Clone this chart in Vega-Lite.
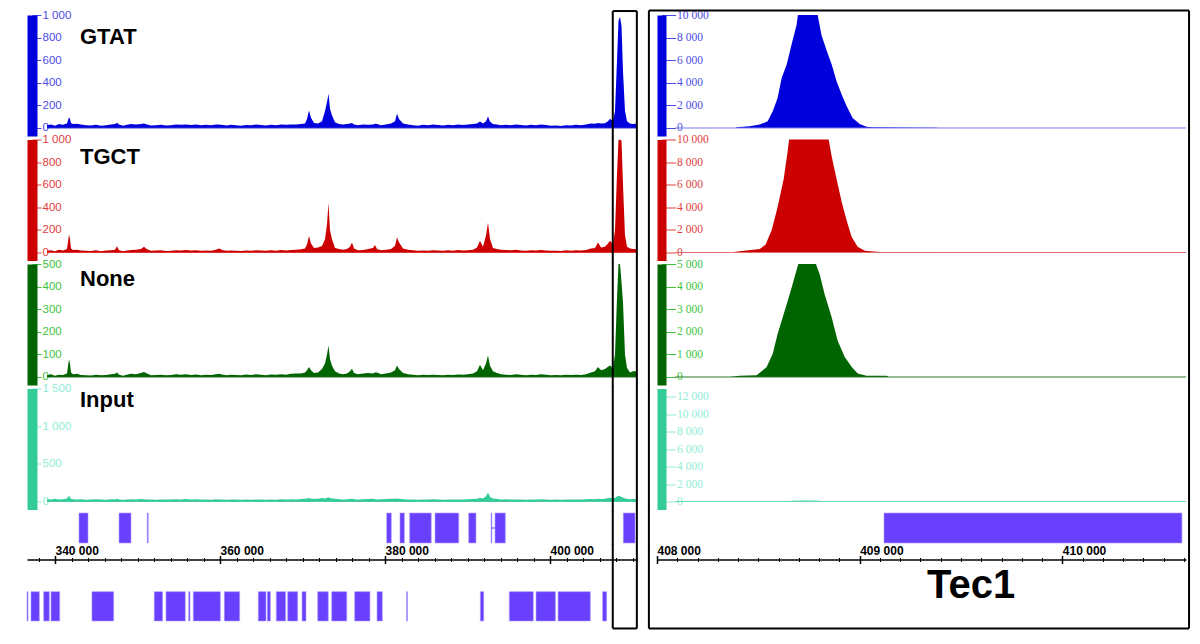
{
"$schema": "https://vega.github.io/schema/vega-lite/v6.json",
"background": "white",
"padding": {"left": 26, "top": 9, "right": 5, "bottom": 5},
"autosize": {"type": "pad"},
"config": {
 "view": {"stroke": null},
 "axisY": {"offset": -5, "domainWidth": 10, "domainCap": "butt", "tickSize": -9, "tickWidth": 1, "tickCount": 100, "labelPadding": -1, "labelAlign": "left", "labelBaseline": "middle", "labelFont": "Liberation Sans", "labelFontSize": 11.5, "grid": false, "labelOverlap": false, "labelBound": false, "labelFlush": false},
 "axisX": {"grid": false, "tickCount": 100, "labelFont": "Liberation Sans", "labelFontWeight": "bold", "labelFontSize": 12, "labelColor": "black", "domainColor": "black", "tickColor": "black", "labelOverlap": false, "labelFlush": false, "labelAlign": "left", "labelBaseline": "alphabetic"}
},
"datasets": {
 "left": [
{"p":339030,"G":25,"T":15,"N":8,"I":30},
{"p":339515,"G":30,"T":20,"N":12,"I":25},
{"p":340000,"G":20,"T":12,"N":6,"I":35},
{"p":340485,"G":35,"T":25,"N":10,"I":28},
{"p":340970,"G":28,"T":18,"N":9,"I":30},
{"p":341454,"G":40,"T":30,"N":15,"I":40},
{"p":341697,"G":96,"T":159,"N":78,"I":75},
{"p":341818,"G":80,"T":120,"N":60,"I":55},
{"p":341939,"G":45,"T":35,"N":20,"I":35},
{"p":342182,"G":35,"T":22,"N":12,"I":30},
{"p":342666,"G":38,"T":25,"N":14,"I":25},
{"p":343151,"G":30,"T":18,"N":9,"I":30},
{"p":343757,"G":25,"T":15,"N":8,"I":22},
{"p":344363,"G":22,"T":14,"N":7,"I":28},
{"p":344969,"G":28,"T":20,"N":10,"I":30},
{"p":345575,"G":20,"T":12,"N":8,"I":25},
{"p":346181,"G":25,"T":18,"N":9,"I":22},
{"p":346787,"G":30,"T":20,"N":12,"I":30},
{"p":347272,"G":35,"T":25,"N":14,"I":28},
{"p":347514,"G":46,"T":56,"N":20,"I":35},
{"p":347757,"G":30,"T":20,"N":10,"I":25},
{"p":348242,"G":20,"T":12,"N":6,"I":22},
{"p":348726,"G":28,"T":18,"N":10,"I":25},
{"p":349211,"G":35,"T":22,"N":14,"I":30},
{"p":349817,"G":32,"T":25,"N":12,"I":28},
{"p":350423,"G":35,"T":30,"N":18,"I":32},
{"p":350787,"G":40,"T":50,"N":22,"I":30},
{"p":351150,"G":30,"T":28,"N":15,"I":25},
{"p":351635,"G":22,"T":15,"N":8,"I":28},
{"p":352241,"G":25,"T":18,"N":9,"I":22},
{"p":352847,"G":28,"T":20,"N":10,"I":25},
{"p":353453,"G":22,"T":14,"N":8,"I":28},
{"p":354059,"G":25,"T":16,"N":9,"I":25},
{"p":354665,"G":30,"T":20,"N":12,"I":30},
{"p":355271,"G":28,"T":18,"N":10,"I":28},
{"p":355877,"G":32,"T":22,"N":12,"I":32},
{"p":356483,"G":26,"T":18,"N":9,"I":26},
{"p":357089,"G":30,"T":20,"N":11,"I":30},
{"p":357695,"G":25,"T":15,"N":8,"I":25},
{"p":358301,"G":28,"T":18,"N":10,"I":28},
{"p":358907,"G":24,"T":16,"N":9,"I":24},
{"p":359513,"G":30,"T":25,"N":12,"I":30},
{"p":359877,"G":32,"T":35,"N":14,"I":28},
{"p":360362,"G":26,"T":20,"N":10,"I":26},
{"p":360846,"G":22,"T":15,"N":8,"I":22},
{"p":361331,"G":28,"T":18,"N":10,"I":28},
{"p":361937,"G":25,"T":16,"N":9,"I":25},
{"p":362543,"G":20,"T":14,"N":8,"I":22},
{"p":363149,"G":26,"T":18,"N":11,"I":26},
{"p":363755,"G":24,"T":16,"N":9,"I":24},
{"p":364361,"G":30,"T":20,"N":12,"I":28},
{"p":364967,"G":26,"T":18,"N":10,"I":25},
{"p":365573,"G":22,"T":15,"N":8,"I":22},
{"p":366179,"G":28,"T":20,"N":11,"I":28},
{"p":366785,"G":25,"T":16,"N":10,"I":24},
{"p":367391,"G":30,"T":22,"N":12,"I":30},
{"p":367997,"G":28,"T":18,"N":10,"I":26},
{"p":368603,"G":32,"T":22,"N":14,"I":30},
{"p":369209,"G":30,"T":25,"N":15,"I":28},
{"p":369815,"G":35,"T":28,"N":16,"I":32},
{"p":370300,"G":40,"T":35,"N":20,"I":35},
{"p":370542,"G":80,"T":70,"N":30,"I":40},
{"p":370785,"G":155,"T":147,"N":44,"I":45},
{"p":371027,"G":90,"T":80,"N":30,"I":38},
{"p":371391,"G":45,"T":40,"N":18,"I":35},
{"p":371876,"G":40,"T":45,"N":20,"I":38},
{"p":372360,"G":60,"T":58,"N":35,"I":45},
{"p":372724,"G":150,"T":118,"N":60,"I":40},
{"p":372966,"G":230,"T":250,"N":100,"I":50},
{"p":373148,"G":304,"T":440,"N":139,"I":55},
{"p":373330,"G":170,"T":200,"N":80,"I":45},
{"p":373572,"G":110,"T":118,"N":50,"I":40},
{"p":373936,"G":50,"T":40,"N":25,"I":35},
{"p":374421,"G":35,"T":30,"N":15,"I":30},
{"p":374906,"G":30,"T":25,"N":12,"I":28},
{"p":375390,"G":35,"T":30,"N":15,"I":30},
{"p":375754,"G":40,"T":50,"N":25,"I":32},
{"p":375996,"G":45,"T":88,"N":36,"I":35},
{"p":376239,"G":30,"T":35,"N":18,"I":30},
{"p":376724,"G":25,"T":20,"N":12,"I":28},
{"p":377330,"G":30,"T":22,"N":15,"I":30},
{"p":377936,"G":28,"T":30,"N":18,"I":32},
{"p":378542,"G":32,"T":40,"N":15,"I":35},
{"p":378784,"G":37,"T":67,"N":20,"I":30},
{"p":379026,"G":35,"T":30,"N":20,"I":28},
{"p":379511,"G":25,"T":20,"N":12,"I":30},
{"p":380117,"G":30,"T":25,"N":15,"I":32},
{"p":380723,"G":40,"T":30,"N":20,"I":35},
{"p":381208,"G":60,"T":60,"N":30,"I":38},
{"p":381450,"G":126,"T":132,"N":51,"I":40},
{"p":381693,"G":80,"T":90,"N":35,"I":35},
{"p":382178,"G":40,"T":35,"N":18,"I":30},
{"p":382784,"G":30,"T":25,"N":12,"I":28},
{"p":383390,"G":25,"T":20,"N":10,"I":25},
{"p":383996,"G":20,"T":15,"N":8,"I":22},
{"p":384602,"G":28,"T":18,"N":10,"I":28},
{"p":385208,"G":25,"T":16,"N":9,"I":25},
{"p":385814,"G":30,"T":20,"N":10,"I":30},
{"p":386420,"G":26,"T":18,"N":9,"I":26},
{"p":387026,"G":22,"T":15,"N":8,"I":24},
{"p":387632,"G":28,"T":20,"N":10,"I":28},
{"p":388238,"G":25,"T":16,"N":9,"I":25},
{"p":388844,"G":30,"T":22,"N":11,"I":28},
{"p":389450,"G":26,"T":18,"N":10,"I":26},
{"p":390056,"G":30,"T":20,"N":12,"I":30},
{"p":390662,"G":35,"T":25,"N":15,"I":32},
{"p":391146,"G":40,"T":45,"N":25,"I":38},
{"p":391510,"G":58,"T":103,"N":54,"I":50},
{"p":391874,"G":40,"T":50,"N":30,"I":40},
{"p":392238,"G":60,"T":150,"N":60,"I":70},
{"p":392480,"G":102,"T":265,"N":95,"I":119},
{"p":392723,"G":55,"T":120,"N":50,"I":60},
{"p":393086,"G":35,"T":40,"N":25,"I":40},
{"p":393570,"G":30,"T":30,"N":18,"I":32},
{"p":394055,"G":25,"T":25,"N":12,"I":28},
{"p":394661,"G":28,"T":22,"N":10,"I":30},
{"p":395267,"G":24,"T":20,"N":9,"I":26},
{"p":395873,"G":30,"T":25,"N":12,"I":28},
{"p":396479,"G":26,"T":18,"N":10,"I":25},
{"p":397085,"G":22,"T":16,"N":8,"I":24},
{"p":397691,"G":28,"T":20,"N":10,"I":28},
{"p":398297,"G":25,"T":18,"N":9,"I":25},
{"p":398903,"G":30,"T":22,"N":12,"I":30},
{"p":399509,"G":26,"T":18,"N":10,"I":26},
{"p":400115,"G":20,"T":15,"N":8,"I":24},
{"p":400721,"G":22,"T":16,"N":9,"I":25},
{"p":401327,"G":18,"T":14,"N":8,"I":22},
{"p":401933,"G":25,"T":20,"N":10,"I":26},
{"p":402539,"G":22,"T":16,"N":9,"I":25},
{"p":403145,"G":28,"T":20,"N":10,"I":28},
{"p":403751,"G":24,"T":18,"N":9,"I":26},
{"p":404357,"G":30,"T":22,"N":12,"I":30},
{"p":404963,"G":40,"T":35,"N":20,"I":32},
{"p":405448,"G":38,"T":40,"N":25,"I":30},
{"p":405812,"G":45,"T":88,"N":44,"I":35},
{"p":406175,"G":40,"T":45,"N":30,"I":32},
{"p":406660,"G":42,"T":50,"N":35,"I":38},
{"p":407024,"G":60,"T":80,"N":45,"I":45},
{"p":407266,"G":82,"T":103,"N":51,"I":50},
{"p":407630,"G":60,"T":70,"N":40,"I":40},
{"p":407872,"G":150,"T":200,"N":100,"I":50},
{"p":408114,"G":600,"T":700,"N":350,"I":65},
{"p":408296,"G":950,"T":1000,"N":500,"I":75},
{"p":408478,"G":985,"T":1000,"N":500,"I":70},
{"p":408660,"G":900,"T":988,"N":420,"I":60},
{"p":408842,"G":500,"T":600,"N":330,"I":50},
{"p":409084,"G":150,"T":150,"N":100,"I":40},
{"p":409326,"G":60,"T":50,"N":40,"I":35},
{"p":409690,"G":40,"T":35,"N":20,"I":30},
{"p":410054,"G":35,"T":30,"N":25,"I":32},
{"p":410538,"G":40,"T":30,"N":25,"I":30}
 ],
 "right": [
{"s":"G","p":408000,"v":0},{"s":"G","p":408388,"v":0},{"s":"G","p":408393,"v":60},{"s":"G","p":408457,"v":150},{"s":"G","p":408507,"v":300},{"s":"G","p":408546,"v":600},{"s":"G","p":408571,"v":1480},{"s":"G","p":408595,"v":2660},{"s":"G","p":408615,"v":4430},{"s":"G","p":408640,"v":5620},{"s":"G","p":408664,"v":7390},{"s":"G","p":408689,"v":9170},{"s":"G","p":408699,"v":10500},{"s":"G","p":408788,"v":10500},{"s":"G","p":408798,"v":9500},{"s":"G","p":408812,"v":8180},{"s":"G","p":408837,"v":6860},{"s":"G","p":408862,"v":5620},{"s":"G","p":408886,"v":4140},{"s":"G","p":408911,"v":2960},{"s":"G","p":408936,"v":1925},{"s":"G","p":408965,"v":890},{"s":"G","p":409000,"v":355},{"s":"G","p":409034,"v":120},{"s":"G","p":409064,"v":60},{"s":"G","p":409222,"v":40},{"s":"G","p":409380,"v":30},{"s":"G","p":409385,"v":0},{"s":"G","p":410610,"v":0},
{"s":"T","p":408000,"v":0},{"s":"T","p":408359,"v":0},{"s":"T","p":408408,"v":100},{"s":"T","p":408507,"v":300},{"s":"T","p":408536,"v":700},{"s":"T","p":408566,"v":2000},{"s":"T","p":408595,"v":4000},{"s":"T","p":408625,"v":6500},{"s":"T","p":408645,"v":9000},{"s":"T","p":408655,"v":10500},{"s":"T","p":408842,"v":10500},{"s":"T","p":408862,"v":8500},{"s":"T","p":408886,"v":6500},{"s":"T","p":408911,"v":4500},{"s":"T","p":408936,"v":2800},{"s":"T","p":408960,"v":1400},{"s":"T","p":408990,"v":500},{"s":"T","p":409025,"v":150},{"s":"T","p":409099,"v":50},{"s":"T","p":409395,"v":20},{"s":"T","p":409404,"v":0},{"s":"T","p":410610,"v":0},
{"s":"N","p":408000,"v":0},{"s":"N","p":408359,"v":0},{"s":"N","p":408408,"v":50},{"s":"N","p":408492,"v":75},{"s":"N","p":408541,"v":440},{"s":"N","p":408571,"v":1030},{"s":"N","p":408595,"v":1900},{"s":"N","p":408620,"v":2630},{"s":"N","p":408645,"v":3370},{"s":"N","p":408669,"v":4100},{"s":"N","p":408694,"v":4900},{"s":"N","p":408704,"v":5200},{"s":"N","p":408778,"v":5200},{"s":"N","p":408788,"v":4900},{"s":"N","p":408803,"v":4540},{"s":"N","p":408827,"v":3660},{"s":"N","p":408862,"v":2630},{"s":"N","p":408891,"v":1610},{"s":"N","p":408926,"v":880},{"s":"N","p":408961,"v":440},{"s":"N","p":408990,"v":150},{"s":"N","p":409034,"v":50},{"s":"N","p":409133,"v":50},{"s":"N","p":409143,"v":0},{"s":"N","p":410610,"v":0},
{"s":"I","p":408000,"v":0},{"s":"I","p":408650,"v":0},{"s":"I","p":408664,"v":100},{"s":"I","p":408734,"v":120},{"s":"I","p":408803,"v":100},{"s":"I","p":408812,"v":0},{"s":"I","p":410610,"v":0}
 ],
 "genes": [
{"track":"upper","start":342909,"end":343999},
{"track":"upper","start":347760,"end":349210},
{"track":"upper","start":351180,"end":351300},
{"track":"upper","start":380200,"end":380760},
{"track":"upper","start":381810,"end":382340},
{"track":"upper","start":382990,"end":385600},
{"track":"upper","start":386060,"end":388930},
{"track":"upper","start":390140,"end":391020},
{"track":"upper","start":392850,"end":392950},
{"track":"upper","start":393330,"end":394580},
{"track":"upper","start":408880,"end":410300},
{"track":"lower","start":336606,"end":336730},
{"track":"lower","start":337090,"end":338100},
{"track":"lower","start":338630,"end":339310},
{"track":"lower","start":339515,"end":340570},
{"track":"lower","start":344480,"end":347110},
{"track":"lower","start":352030,"end":353040},
{"track":"lower","start":353450,"end":355790},
{"track":"lower","start":356200,"end":356360},
{"track":"lower","start":356760,"end":360040},
{"track":"lower","start":360520,"end":362380},
{"track":"lower","start":364640,"end":365570},
{"track":"lower","start":365740,"end":366100},
{"track":"lower","start":366820,"end":367950},
{"track":"lower","start":368200,"end":369410},
{"track":"lower","start":369940,"end":370420},
{"track":"lower","start":371840,"end":373120},
{"track":"lower","start":373540,"end":375360},
{"track":"lower","start":376320,"end":378170},
{"track":"lower","start":379030,"end":379670},
{"track":"lower","start":382600,"end":382720},
{"track":"lower","start":391550,"end":391960},
{"track":"lower","start":395060,"end":397970},
{"track":"lower","start":398300,"end":400650},
{"track":"lower","start":400970,"end":404880},
{"track":"lower","start":406370,"end":406860},
{"track":"right","start":409120,"end":410590}
 ]
},
"spacing": 9,
"hconcat": [
 {"spacing": 3.5, "bounds": "flush", "vconcat": [
  {"width": 610, "height": 121, "layer": [
   {"data": {"name": "left"}, "mark": {"type": "area", "color": "#0000dd", "clip": true},
    "encoding": {"x": {"field": "p", "type": "quantitative", "scale": {"domain": [336606, 410538], "nice": false, "zero": false}, "axis": null},
     "y": {"field": "G", "type": "quantitative", "scale": {"domain": [-70.8, 1000], "nice": false, "zero": false}, "axis": {"title": null, "tickCount": 100, "labelOverlap": false, "values": [0,200,400,600,800,1000], "domainColor": "#0000dd", "tickColor": "#4b4be6", "labelColor": "#4b4be6", "labelExpr": "replace(format(datum.value, ','), ',', ' ')"}}}},
   {"data": {"values": [{}]}, "mark": {"type": "rule", "color": "#3333dd", "strokeWidth": 1}, "encoding": {"x": {"datum": 339030, "axis": null}, "x2": {"datum": 410538}, "y": {"datum": 0}}},
   {"data": {"values": [{}]}, "mark": {"type": "text", "text": "GTAT", "font": "Liberation Sans", "fontSize": 22, "fontWeight": "bold", "align": "left", "baseline": "middle", "color": "black"}, "encoding": {"x": {"datum": 343030, "axis": null}, "y": {"datum": 808}}},
   {"data": {"values": [{"e": 407600}, {"e": 410520}]}, "mark": {"type": "rule", "color": "black", "strokeWidth": 2}, "encoding": {"x": {"field": "e", "type": "quantitative", "axis": null}, "y": {"datum": -88.5}, "y2": {"datum": 1035}}},
   {"data": {"values": [{}]}, "mark": {"type": "rule", "color": "black", "strokeWidth": 2}, "encoding": {"x": {"datum": 407600, "axis": null}, "x2": {"datum": 410520}, "y": {"datum": 1035}}}
  ]},
  {"width": 610, "height": 121, "layer": [
   {"data": {"name": "left"}, "mark": {"type": "area", "color": "#cc0000", "clip": true},
    "encoding": {"x": {"field": "p", "type": "quantitative", "scale": {"domain": [336606, 410538], "nice": false, "zero": false}, "axis": null},
     "y": {"field": "T", "type": "quantitative", "scale": {"domain": [-70.8, 1000], "nice": false, "zero": false}, "axis": {"title": null, "tickCount": 100, "labelOverlap": false, "values": [0,200,400,600,800,1000], "domainColor": "#cc0000", "tickColor": "#e03c3c", "labelColor": "#e03c3c", "labelExpr": "replace(format(datum.value, ','), ',', ' ')"}}}},
   {"data": {"values": [{}]}, "mark": {"type": "rule", "color": "#dd3333", "strokeWidth": 1}, "encoding": {"x": {"datum": 339030, "axis": null}, "x2": {"datum": 410538}, "y": {"datum": 0}}},
   {"data": {"values": [{}]}, "mark": {"type": "text", "text": "TGCT", "font": "Liberation Sans", "fontSize": 22, "fontWeight": "bold", "align": "left", "baseline": "middle", "color": "black"}, "encoding": {"x": {"datum": 343030, "axis": null}, "y": {"datum": 842}}},
   {"data": {"values": [{"e": 407600}, {"e": 410520}]}, "mark": {"type": "rule", "color": "black", "strokeWidth": 2}, "encoding": {"x": {"field": "e", "type": "quantitative", "axis": null}, "y": {"datum": -88.5}, "y2": {"datum": 1017.7}}}
  ]},
  {"width": 610, "height": 121, "layer": [
   {"data": {"name": "left"}, "mark": {"type": "area", "color": "#006400", "clip": true},
    "encoding": {"x": {"field": "p", "type": "quantitative", "scale": {"domain": [336606, 410538], "nice": false, "zero": false}, "axis": null},
     "y": {"field": "N", "type": "quantitative", "scale": {"domain": [-35.4, 500], "nice": false, "zero": false}, "axis": {"title": null, "tickCount": 100, "labelOverlap": false, "values": [0,100,200,300,400,500], "domainColor": "#006400", "tickColor": "#3cc43c", "labelColor": "#3cc43c", "labelExpr": "replace(format(datum.value, ','), ',', ' ')"}}}},
   {"data": {"values": [{}]}, "mark": {"type": "rule", "color": "#1e6e1e", "strokeWidth": 1}, "encoding": {"x": {"datum": 339030, "axis": null}, "x2": {"datum": 410538}, "y": {"datum": 0}}},
   {"data": {"values": [{}]}, "mark": {"type": "text", "text": "None", "font": "Liberation Sans", "fontSize": 22, "fontWeight": "bold", "align": "left", "baseline": "middle", "color": "black"}, "encoding": {"x": {"datum": 343030, "axis": null}, "y": {"datum": 434.5}}},
   {"data": {"values": [{"e": 407600}, {"e": 410520}]}, "mark": {"type": "rule", "color": "black", "strokeWidth": 2}, "encoding": {"x": {"field": "e", "type": "quantitative", "axis": null}, "y": {"datum": -44.25}, "y2": {"datum": 508.85}}}
  ]},
  {"width": 610, "height": 121, "layer": [
   {"data": {"name": "left"}, "mark": {"type": "area", "color": "#33cc99", "clip": true},
    "encoding": {"x": {"field": "p", "type": "quantitative", "scale": {"domain": [336606, 410538], "nice": false, "zero": false}, "axis": null},
     "y": {"field": "I", "type": "quantitative", "scale": {"domain": [-106.2, 1500], "nice": false, "zero": false}, "axis": {"title": null, "tickCount": 100, "labelOverlap": false, "values": [0,500,1000,1500], "domainColor": "#33cc99", "tickColor": "#90ecd6", "labelColor": "#90ecd6", "labelExpr": "replace(format(datum.value, ','), ',', ' ')"}}}},
   {"data": {"values": [{}]}, "mark": {"type": "rule", "color": "#44cc9e", "strokeWidth": 1}, "encoding": {"x": {"datum": 339030, "axis": null}, "x2": {"datum": 410538}, "y": {"datum": 0}}},
   {"data": {"values": [{}]}, "mark": {"type": "text", "text": "Input", "font": "Liberation Sans", "fontSize": 22, "fontWeight": "bold", "align": "left", "baseline": "middle", "color": "black"}, "encoding": {"x": {"datum": 343030, "axis": null}, "y": {"datum": 1341}}},
   {"data": {"values": [{"e": 407600}, {"e": 410520}]}, "mark": {"type": "rule", "color": "black", "strokeWidth": 2}, "encoding": {"x": {"field": "e", "type": "quantitative", "axis": null}, "y": {"datum": -132.7}, "y2": {"datum": 1526.5}}}
  ]},
  {"width": 610, "height": 30, "layer": [
   {"data": {"name": "genes"}, "transform": [{"filter": "datum.track == 'upper'"}], "mark": {"type": "rect", "color": "#6a40ff", "stroke": "#a898ff", "strokeWidth": 0.6},
    "encoding": {"x": {"field": "start", "type": "quantitative", "scale": {"domain": [336606, 410538], "nice": false, "zero": false}, "axis": null}, "x2": {"field": "end"}, "y": {"datum": 0, "scale": {"domain": [0, 1], "nice": false, "zero": false}, "axis": null}, "y2": {"datum": 1}}},
   {"data": {"values": [{}]}, "mark": {"type": "rule", "color": "#6a40ff", "strokeWidth": 1}, "encoding": {"x": {"datum": 392900, "axis": null}, "x2": {"datum": 393330}, "y": {"datum": 0.5, "axis": null}}},
   {"data": {"values": [{"e": 407600}, {"e": 410520}]}, "mark": {"type": "rule", "color": "black", "strokeWidth": 2}, "encoding": {"x": {"field": "e", "type": "quantitative", "axis": null}, "y": {"datum": -0.067, "axis": null}, "y2": {"datum": 1.067}}}
  ]},
  {"width": 610, "height": 81.5, "resolve": {"axis": {"x": "independent"}}, "layer": [
   {"data": {"name": "genes"}, "transform": [{"filter": "datum.track == 'lower'"}], "mark": {"type": "rect", "color": "#6a40ff", "stroke": "#a898ff", "strokeWidth": 0.6},
    "encoding": {"x": {"field": "start", "type": "quantitative", "scale": {"domain": [336606, 410538], "nice": false, "zero": false}, "axis": {"orient": "top", "offset": -13, "tickCount": 100, "values": [340000,360000,380000,400000], "tickSize": 4, "tickWidth": 1.5, "domainWidth": 1.5, "labelPadding": 1, "title": null, "labelExpr": "replace(format(datum.value, ','), ',', ' ')"}}, "x2": {"field": "end"}, "y": {"datum": 0, "scale": {"domain": [-0.239, 2.543], "nice": false, "zero": false}, "axis": null}, "y2": {"datum": 1}}},
   {"data": {"values": [{"e": 407600}, {"e": 410520}]}, "mark": {"type": "rule", "color": "black", "strokeWidth": 2}, "encoding": {"x": {"field": "e", "type": "quantitative", "axis": {"orient": "top", "offset": -17, "tickCount": 100, "values": [340000,360000,380000,400000], "tickSize": 4, "tickWidth": 1.5, "domain": false, "labels": false, "title": null}}, "y": {"datum": -0.255, "axis": null}, "y2": {"datum": 2.611}}},
   {"data": {"values": [{}]}, "mark": {"type": "rule", "color": "black", "strokeWidth": 2}, "encoding": {"x": {"datum": 407600, "axis": {"orient": "top", "offset": -15, "tickCount": 100, "values": [338000,340000,342000,344000,346000,348000,350000,352000,354000,356000,358000,360000,362000,364000,366000,368000,370000,372000,374000,376000,378000,380000,382000,384000,386000,388000,390000,392000,394000,396000,398000,400000,402000,404000,406000,408000,410000], "tickSize": 4, "tickWidth": 1, "domain": false, "labels": false, "title": null}}, "x2": {"datum": 410520}, "y": {"datum": -0.255, "axis": null}}}
  ]}
 ]},
 {"spacing": 3.5, "bounds": "flush", "vconcat": [
  {"width": 529, "height": 121, "layer": [
   {"data": {"name": "right"}, "transform": [{"filter": "datum.s == 'G'"}], "mark": {"type": "area", "color": "#0000dd", "clip": true},
    "encoding": {"x": {"field": "p", "type": "quantitative", "scale": {"domain": [408000, 410610], "nice": false, "zero": false}, "axis": null},
     "y": {"field": "v", "type": "quantitative", "scale": {"domain": [-708, 10000], "nice": false, "zero": false}, "axis": {"title": null, "tickCount": 100, "labelOverlap": false, "offset": -4.5, "domainWidth": 9, "tickSize": -14, "labelFont": "Liberation Sans Narrow", "labelFontSize": 11.5, "values": [0,2000,4000,6000,8000,10000], "domainColor": "#0000dd", "tickColor": "#4b4be6", "labelColor": "#4b4be6", "labelExpr": "replace(format(datum.value, ','), ',', ' ')"}}}},
   {"data": {"values": [{}]}, "mark": {"type": "rule", "color": "#7b7bea", "strokeWidth": 1}, "encoding": {"x": {"datum": 408090, "axis": null}, "x2": {"datum": 410610}, "y": {"datum": 0}}},
   {"data": {"values": [{"e": 407960}, {"e": 410625}]}, "mark": {"type": "rule", "color": "black", "strokeWidth": 2}, "encoding": {"x": {"field": "e", "type": "quantitative", "axis": null}, "y": {"datum": -885}, "y2": {"datum": 10400}}},
   {"data": {"values": [{}]}, "mark": {"type": "rule", "color": "black", "strokeWidth": 2}, "encoding": {"x": {"datum": 407960, "axis": null}, "x2": {"datum": 410625}, "y": {"datum": 10400}}}
  ]},
  {"width": 529, "height": 121, "layer": [
   {"data": {"name": "right"}, "transform": [{"filter": "datum.s == 'T'"}], "mark": {"type": "area", "color": "#cc0000", "clip": true},
    "encoding": {"x": {"field": "p", "type": "quantitative", "scale": {"domain": [408000, 410610], "nice": false, "zero": false}, "axis": null},
     "y": {"field": "v", "type": "quantitative", "scale": {"domain": [-708, 10000], "nice": false, "zero": false}, "axis": {"title": null, "tickCount": 100, "labelOverlap": false, "offset": -4.5, "domainWidth": 9, "tickSize": -14, "labelFont": "Liberation Sans Narrow", "labelFontSize": 11.5, "values": [0,2000,4000,6000,8000,10000], "domainColor": "#cc0000", "tickColor": "#e03c3c", "labelColor": "#e03c3c", "labelExpr": "replace(format(datum.value, ','), ',', ' ')"}}}},
   {"data": {"values": [{}]}, "mark": {"type": "rule", "color": "#e06a6a", "strokeWidth": 1}, "encoding": {"x": {"datum": 408090, "axis": null}, "x2": {"datum": 410610}, "y": {"datum": 0}}},
   {"data": {"values": [{"e": 407960}, {"e": 410625}]}, "mark": {"type": "rule", "color": "black", "strokeWidth": 2}, "encoding": {"x": {"field": "e", "type": "quantitative", "axis": null}, "y": {"datum": -885}, "y2": {"datum": 10177}}}
  ]},
  {"width": 529, "height": 121, "layer": [
   {"data": {"name": "right"}, "transform": [{"filter": "datum.s == 'N'"}], "mark": {"type": "area", "color": "#006400", "clip": true},
    "encoding": {"x": {"field": "p", "type": "quantitative", "scale": {"domain": [408000, 410610], "nice": false, "zero": false}, "axis": null},
     "y": {"field": "v", "type": "quantitative", "scale": {"domain": [-354, 5000], "nice": false, "zero": false}, "axis": {"title": null, "tickCount": 100, "labelOverlap": false, "offset": -4.5, "domainWidth": 9, "tickSize": -14, "labelFont": "Liberation Sans Narrow", "labelFontSize": 11.5, "values": [0,1000,2000,3000,4000,5000], "domainColor": "#006400", "tickColor": "#3cc43c", "labelColor": "#3cc43c", "labelExpr": "replace(format(datum.value, ','), ',', ' ')"}}}},
   {"data": {"values": [{}]}, "mark": {"type": "rule", "color": "#2a7a2a", "strokeWidth": 1}, "encoding": {"x": {"datum": 408090, "axis": null}, "x2": {"datum": 410610}, "y": {"datum": 0}}},
   {"data": {"values": [{"e": 407960}, {"e": 410625}]}, "mark": {"type": "rule", "color": "black", "strokeWidth": 2}, "encoding": {"x": {"field": "e", "type": "quantitative", "axis": null}, "y": {"datum": -442.5}, "y2": {"datum": 5088.5}}}
  ]},
  {"width": 529, "height": 121, "layer": [
   {"data": {"name": "right"}, "transform": [{"filter": "datum.s == 'I'"}], "mark": {"type": "area", "color": "#33cc99", "clip": true},
    "encoding": {"x": {"field": "p", "type": "quantitative", "scale": {"domain": [408000, 410610], "nice": false, "zero": false}, "axis": null},
     "y": {"field": "v", "type": "quantitative", "scale": {"domain": [-917, 12951], "nice": false, "zero": false}, "axis": {"title": null, "tickCount": 100, "labelOverlap": false, "offset": -4.5, "domainWidth": 9, "tickSize": -14, "labelFont": "Liberation Sans Narrow", "labelFontSize": 11.5, "values": [0,2000,4000,6000,8000,10000,12000], "domainColor": "#33cc99", "tickColor": "#90ecd6", "labelColor": "#90ecd6", "labelExpr": "replace(format(datum.value, ','), ',', ' ')"}}}},
   {"data": {"values": [{}]}, "mark": {"type": "rule", "color": "#66d9b8", "strokeWidth": 1}, "encoding": {"x": {"datum": 408090, "axis": null}, "x2": {"datum": 410610}, "y": {"datum": 0}}},
   {"data": {"values": [{"e": 407960}, {"e": 410625}]}, "mark": {"type": "rule", "color": "black", "strokeWidth": 2}, "encoding": {"x": {"field": "e", "type": "quantitative", "axis": null}, "y": {"datum": -1146}, "y2": {"datum": 13180}}}
  ]},
  {"width": 529, "height": 30, "layer": [
   {"data": {"name": "genes"}, "transform": [{"filter": "datum.track == 'right'"}], "mark": {"type": "rect", "color": "#6a40ff", "stroke": "#a898ff", "strokeWidth": 0.6},
    "encoding": {"x": {"field": "start", "type": "quantitative", "scale": {"domain": [408000, 410610], "nice": false, "zero": false}, "axis": null}, "x2": {"field": "end"}, "y": {"datum": 0, "scale": {"domain": [0, 1], "nice": false, "zero": false}, "axis": null}, "y2": {"datum": 1}}},
   {"data": {"values": [{"e": 407960}, {"e": 410625}]}, "mark": {"type": "rule", "color": "black", "strokeWidth": 2}, "encoding": {"x": {"field": "e", "type": "quantitative", "axis": null}, "y": {"datum": -0.067, "axis": null}, "y2": {"datum": 1.067}}}
  ]},
  {"width": 529, "height": 81.5, "resolve": {"axis": {"x": "independent"}}, "layer": [
   {"data": {"values": [{"e": 407960}, {"e": 410625}]}, "mark": {"type": "rule", "color": "black", "strokeWidth": 2},
    "encoding": {"x": {"field": "e", "type": "quantitative", "scale": {"domain": [408000, 410610], "nice": false, "zero": false}, "axis": {"orient": "top", "offset": -13, "tickCount": 100, "values": [408000,409000,410000], "tickSize": 4, "tickWidth": 1.5, "domainWidth": 1.5, "labelPadding": 1, "title": null, "labelExpr": "replace(format(datum.value, ','), ',', ' ')"}}, "y": {"datum": -0.255, "scale": {"domain": [-0.239, 2.543], "nice": false, "zero": false}, "axis": null}, "y2": {"datum": 2.611}}},
   {"data": {"values": [{}]}, "mark": {"type": "rule", "color": "black", "strokeWidth": 2}, "encoding": {"x": {"datum": 407960, "axis": {"orient": "top", "offset": -17, "tickCount": 100, "values": [408000,409000,410000], "tickSize": 4, "tickWidth": 1.5, "domain": false, "labels": false, "title": null}}, "x2": {"datum": 410625}, "y": {"datum": -0.255, "axis": null}}},
   {"data": {"values": [{}]}, "mark": {"type": "text", "text": "Tec1", "font": "Liberation Sans Narrow, Liberation Sans, sans-serif", "fontSize": 40, "fontWeight": "bold", "align": "center", "baseline": "middle", "color": "black"}, "encoding": {"x": {"datum": 409550, "axis": {"orient": "top", "offset": -15, "tickCount": 100, "values": [408000,408100,408200,408300,408400,408500,408600,408700,408800,408900,409000,409100,409200,409300,409400,409500,409600,409700,409800,409900,410000,410100,410200,410300,410400,410500,410600], "tickSize": 4, "tickWidth": 1, "domain": false, "labels": false, "title": null}}, "y": {"datum": 1.196, "axis": null}}}
  ]}
 ]}
]
}
